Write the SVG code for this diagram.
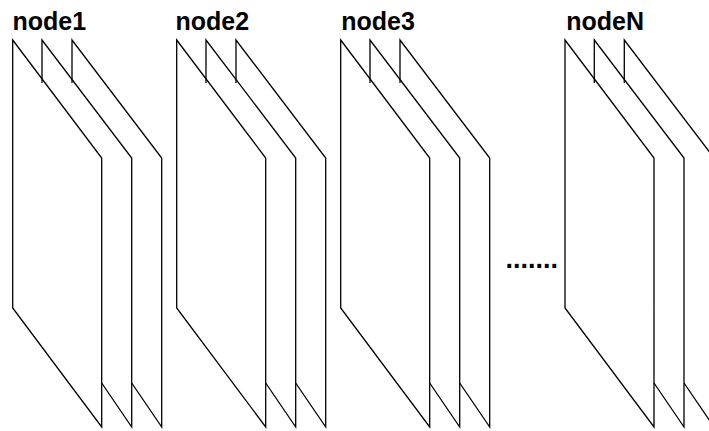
<svg xmlns="http://www.w3.org/2000/svg" width="709" height="431" viewBox="0 0 709 431">
  <defs>
    <style>
      .edge { fill: none; stroke: #000; stroke-width: 1.3; stroke-linejoin: miter; }
      .label { font-family: "Liberation Sans", Arial, sans-serif; font-weight: bold; font-size: 25px; fill: #000; }
      .gap { font-family: "Liberation Sans", Arial, sans-serif; font-weight: bold; font-size: 27px; fill: #000; }
    </style>
    <!-- One stack of three sheets; the front sheet hides the lower parts of the ones behind -->
    <g id="stack">
      <!-- front sheet -->
      <path class="edge" d="M0,40 L89,158 L89,427 L0,308 Z"/>
      <!-- middle sheet (visible edges only) -->
      <path class="edge" d="M29.3,83 L29.3,40 L119,158 L119,427 L89,383"/>
      <!-- back sheet (visible edges only) -->
      <path class="edge" d="M59.3,83 L59.3,40 L149,158 L149,427 L119,383"/>
    </g>
  </defs>

  <g id="node1">
    <text class="label" x="12.5" y="30">node1</text>
    <use href="#stack" x="12.7" y="0"/>
  </g>

  <g id="node2">
    <text class="label" x="175.5" y="30">node2</text>
    <use href="#stack" x="176.7" y="0"/>
  </g>

  <g id="node3">
    <text class="label" x="341.3" y="30">node3</text>
    <use href="#stack" x="340.7" y="0"/>
  </g>

  <g id="ellipsis">
    <text class="gap" x="505.4" y="268">.......</text>
  </g>

  <g id="nodeN">
    <text class="label" x="566.3" y="30">nodeN</text>
    <use href="#stack" x="565" y="0"/>
  </g>

  <g id="connectors"></g>
</svg>
